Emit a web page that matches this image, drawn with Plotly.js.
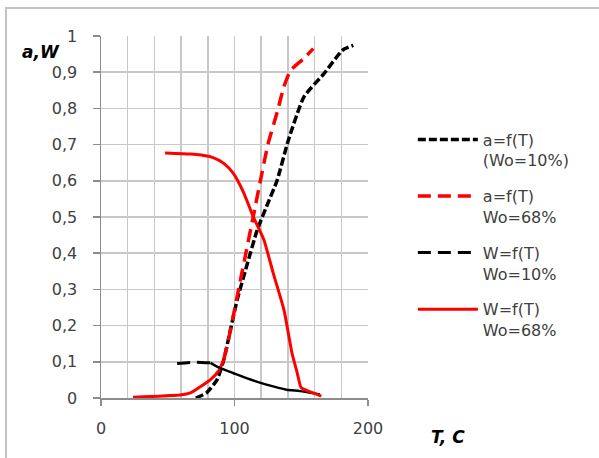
<!DOCTYPE html>
<html>
<head>
<meta charset="utf-8">
<script src="https://cdn.plot.ly/plotly-3.0.1.min.js"></script>
<style>
  html, body { margin: 0; padding: 0; background: #fff; }
  #wrap { position: relative; width: 599px; height: 458px; overflow: hidden; }
  #frame { position: absolute; left: 5px; top: 7px; width: 700px; height: 600px;
           border-left: 2px solid #c4c4c4; border-top: 2px solid #c4c4c4; pointer-events: none; }
  #chart { position: absolute; left: 0; top: 0; width: 599px; height: 458px; }
</style>
</head>
<body>
<div id="wrap">
  <div id="chart"></div>
  <div id="frame"></div>
</div>
<script>
// Temperature T (C) and the values of a and W for each curve
const aW10_T = [71, 79, 87, 92, 97, 102, 109, 117, 124, 132, 140, 152, 167, 181, 189];
const aW10_v = [0, 0.014, 0.051, 0.106, 0.189, 0.271, 0.363, 0.464, 0.529, 0.602, 0.708, 0.832, 0.896, 0.961, 0.974];

const aW68_T = [24, 59, 67, 82, 88, 92, 95.5, 99, 104, 109, 114, 119, 125, 132, 137, 142, 152, 159];
const aW68_v = [0.002, 0.008, 0.014, 0.051, 0.074, 0.106, 0.161, 0.225, 0.318, 0.409, 0.5, 0.593, 0.7, 0.79, 0.86, 0.905, 0.938, 0.965];

const W10_T = [57, 71, 82, 89, 99, 112, 124, 139, 149, 164];
const W10_v = [0.095, 0.099, 0.097, 0.083, 0.069, 0.051, 0.037, 0.023, 0.019, 0.01];

const W68_T = [48, 67, 75, 84, 92, 99, 107, 114, 122, 129, 137, 143, 147, 150, 159, 165];
const W68_v = [0.677, 0.674, 0.671, 0.664, 0.648, 0.621, 0.566, 0.501, 0.437, 0.345, 0.244, 0.125, 0.069, 0.028, 0.014, 0.005];

const seriesNames = ['a=f(T)<br>(Wo=10%)', 'a=f(T)<br>Wo=68%', 'W=f(T)<br>Wo=10%', 'W=f(T)<br>Wo=68%'];
const xTicks = [0, 100, 200];
const yTicks = [0, 0.1, 0.2, 0.3, 0.4, 0.5, 0.6, 0.7, 0.8, 0.9, 1];

// the a(68%) curve is drawn solid up to index 5, dashed after;
// the W(10%) curve is dashed up to index 2, solid after
const aW68Split = 5;
const W10Split = 2;

const RED = '#ff0000', BLACK = '#000000';
const SHORT = '8px,3px', LONG = '13px,7px';

function part(xs, ys, a, b) { return { x: xs.slice(a, b), y: ys.slice(a, b) }; }

const base = { type: 'scatter', mode: 'lines', hoverinfo: 'skip' };

const traces = [
  Object.assign({}, base, {
    x: aW10_T, y: aW10_v, name: seriesNames[0], legendgroup: 'g1', legendrank: 1,
    line: { color: BLACK, width: 3.5, dash: SHORT, shape: 'spline', smoothing: 0.5 }
  }),
  Object.assign({}, base, part(aW68_T, aW68_v, 0, aW68Split + 1), {
    name: seriesNames[1], legendgroup: 'g2', showlegend: false,
    line: { color: RED, width: 3, shape: 'spline', smoothing: 0.5 }
  }),
  Object.assign({}, base, part(aW68_T, aW68_v, aW68Split, aW68_T.length), {
    name: seriesNames[1], legendgroup: 'g2', legendrank: 2,
    line: { color: RED, width: 3.5, dash: LONG, shape: 'spline', smoothing: 0.5 }
  }),
  Object.assign({}, base, part(W10_T, W10_v, 0, W10Split + 1), {
    name: seriesNames[2], legendgroup: 'g3', legendrank: 3,
    line: { color: BLACK, width: 3, dash: LONG, shape: 'spline', smoothing: 0.5 }
  }),
  Object.assign({}, base, part(W10_T, W10_v, W10Split, W10_T.length), {
    name: seriesNames[2], legendgroup: 'g3', showlegend: false,
    line: { color: BLACK, width: 2.5, shape: 'spline', smoothing: 0.5 }
  }),
  Object.assign({}, base, {
    x: W68_T, y: W68_v, name: seriesNames[3], legendgroup: 'g4', legendrank: 4,
    line: { color: RED, width: 3, shape: 'spline', smoothing: 0.5 }
  })
];

const FONT = 'DejaVu Sans, sans-serif';
const TXT = '#404040';

const layout = {
  width: 599, height: 458,
  margin: { l: 101, r: 231, t: 36, b: 60, pad: 0 },
  paper_bgcolor: 'rgba(0,0,0,0)', plot_bgcolor: '#ffffff',
  separators: ', ',
  font: { family: FONT, size: 15, color: TXT },
  showlegend: true,
  xaxis: {
    range: [0, 200], tickvals: xTicks, ticktext: xTicks.map(String),
    showgrid: true, gridcolor: '#c8c8c8', gridwidth: 1.5,
    minor: { dtick: 20, tick0: 0, showgrid: true, gridcolor: '#c8c8c8', gridwidth: 1.5 },
    zeroline: false, showline: true, linecolor: '#8c8c8c', linewidth: 1.5,
    ticks: 'outside', ticklen: 6, tickcolor: '#8c8c8c', tickwidth: 1.5,
    ticklabelstandoff: 9, tickfont: { family: FONT, size: 16, color: TXT },
    fixedrange: true
  },
  yaxis: {
    range: [0, 1], tickvals: yTicks, ticktext: yTicks.map(v => String(v).replace('.', ',')),
    showgrid: true, gridcolor: '#c8c8c8', gridwidth: 1.5,
    zeroline: false, showline: true, linecolor: '#8c8c8c', linewidth: 1.5,
    ticks: 'outside', ticklen: 7, tickcolor: '#8c8c8c', tickwidth: 1.5,
    ticklabelstandoff: 12, tickfont: { family: FONT, size: 16, color: TXT },
    fixedrange: true
  },
  legend: {
    x: 1.168, xanchor: 'left', y: 0.761, yanchor: 'top',
    valign: 'top', tracegroupgap: 12, itemwidth: 60,
    font: { family: FONT, size: 16, color: TXT },
    bgcolor: 'rgba(0,0,0,0)', borderwidth: 0
  },
  annotations: [
    { text: '<b><i>a,W</i></b>', xref: 'paper', yref: 'paper', x: -0.225, y: 0.955,
      xanchor: 'center', yanchor: 'middle', showarrow: false,
      font: { family: FONT, size: 17, color: '#000' } },
    { text: '<b><i>T, C</i></b>', xref: 'paper', yref: 'paper', x: 1.30, y: -0.108,
      xanchor: 'center', yanchor: 'middle', showarrow: false,
      font: { family: FONT, size: 17, color: '#000' } }
  ]
};

Plotly.newPlot('chart', traces, layout, { displayModeBar: false, staticPlot: true });
</script>
</body>
</html>
